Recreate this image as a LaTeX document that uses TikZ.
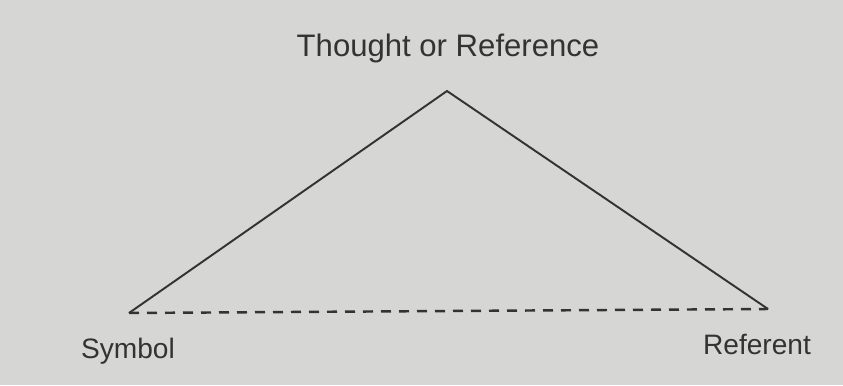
\documentclass[tikz,border=0pt]{standalone}
\usepackage{fontspec}
\setmainfont{Liberation Sans}
\usepackage{xcolor}
\usetikzlibrary{positioning}
\definecolor{Paper}{HTML}{D6D6D4}
\definecolor{Ink}{HTML}{333333}

\begin{document}
\begin{tikzpicture}[
  label/.style={text=Ink,font=\fontsize{16}{19}\selectfont,inner sep=0pt},
  side/.style={draw=Ink,line width=1.1pt},
  base/.style={draw=Ink,line width=1.4pt,dash pattern=on 0.2cm off 0.16cm}
]
\fill[Paper] (0,0) rectangle (16.86,7.7);
\useasboundingbox (0,0) rectangle (16.86,7.7);
\coordinate (apex) at (8.94,5.88);
\coordinate (sym) at (2.58,1.44);
\coordinate (ref) at (15.36,1.52);
\node[label,font=\fontsize{17.7}{21}\selectfont] (thought) at (8.96,6.74) {Thought or Reference};
\node[label] (symbol) at (2.56,0.68) {Symbol};
\node[label] (referent) at (15.14,0.82) {Referent};
\draw[side] (sym) -- (apex) -- (ref);
\draw[base] (sym) -- (ref);
\end{tikzpicture}
\end{document}
